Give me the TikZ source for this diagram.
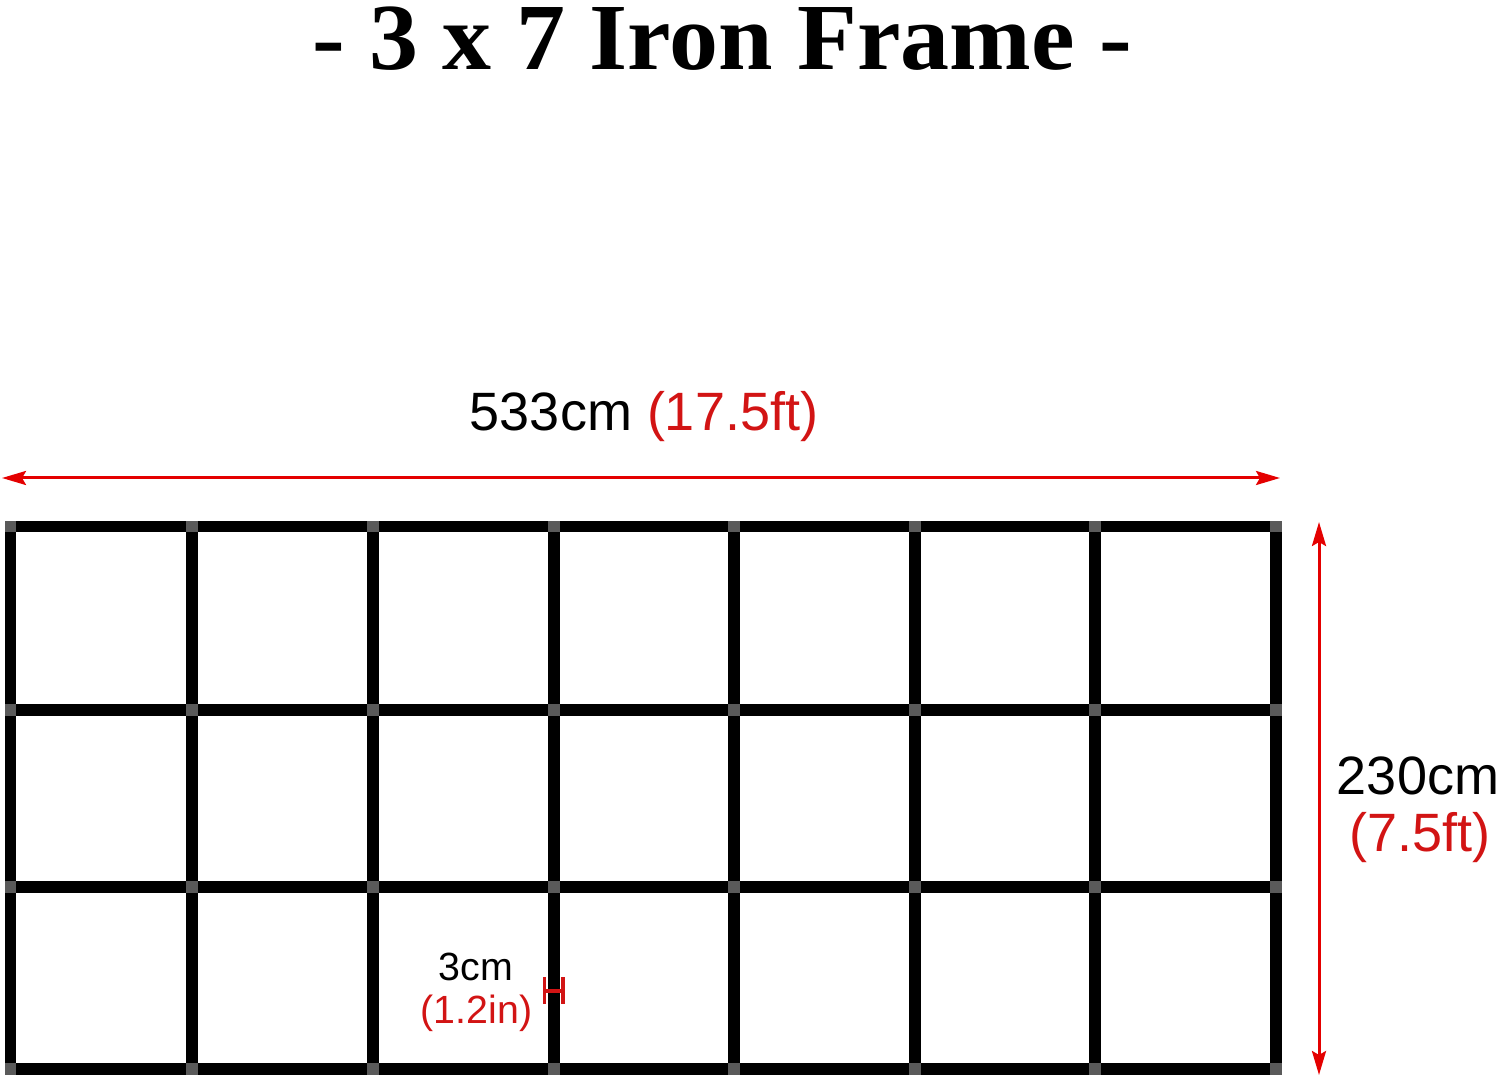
\documentclass[tikz,border=0pt]{standalone}
\usepackage{fontspec}
\setmainfont{Liberation Sans}
\newfontfamily\titlefont{Liberation Serif}
\usetikzlibrary{arrows.meta}
\definecolor{dimred}{RGB}{228,0,0}
\definecolor{txtred}{RGB}{210,20,20}
\definecolor{jointgray}{RGB}{90,90,90}
\begin{document}
\begin{tikzpicture}[x=0.75pt,y=-0.75pt,
  bar/.style={line width=8.8pt, line cap=rect, black},
  dimtip/.tip={Stealth[length=18pt,width=10.5pt,inset=3pt]},
  dimline/.style={dimred, line width=2.25pt, dimtip-dimtip},
  marker/.style={txtred, line width=2.6pt},
  biglabel/.style={anchor=base, inner sep=0pt, font=\fontsize{40.5}{46}\selectfont},
  smalllabel/.style={anchor=base, inner sep=0pt, font=\fontsize{29.5}{34}\selectfont}]
\useasboundingbox (0,0) rectangle (1500,1080);
% frame bars
\foreach \x in {10.5,192,373,554,734,915,1095,1276}
  \draw[bar] (\x,526.5) -- (\x,1069);
\foreach \y in {526.5,710,887,1069}
  \draw[bar] (10.5,\y) -- (1276,\y);
% joints
\foreach \x in {10.5,192,373,554,734,915,1095,1276}
  \foreach \y in {526.5,710,887,1069}
    \fill[jointgray] (\x-5.9,\y-5.9) rectangle (\x+5.9,\y+5.9);
% title
\node[anchor=base, inner sep=0pt, xscale=1.035, text height=46pt, text depth=0pt, font=\titlefont\bfseries\fontsize{71}{80}\selectfont] (title) at (722,70) {- 3 x 7 Iron Frame -};
% width dimension
\coordinate (wl) at (2,478);
\coordinate (wr) at (1280,478);
\draw[dimline] (wl) -- (wr);
\node[biglabel] (wlabel) at (644,431) {533cm \textcolor{txtred}{(17.5ft)}};
% height dimension
\coordinate (ht) at (1319,522);
\coordinate (hb) at (1319,1075);
\draw[dimline] (ht) -- (hb);
\node[biglabel] (hlabel) at (1418,794) {230cm};
\node[biglabel, text=txtred] (hlabelft) at (1420,851) {(7.5ft)};
% bar thickness marker
\coordinate (ma) at (544.5,977);
\coordinate (mb) at (544.5,1004);
\coordinate (mc) at (563,977);
\coordinate (md) at (563,1004);
\coordinate (me) at (544.5,991);
\coordinate (mf) at (563,991);
\draw[marker] (ma) -- (mb);
\draw[marker] (mc) -- (md);
\draw[marker] (me) -- (mf);
\node[smalllabel] (tlabel) at (476,980) {3cm};
\node[smalllabel, text=txtred] (tlabelin) at (476.5,1023) {(1.2in)};
\end{tikzpicture}
\end{document}
